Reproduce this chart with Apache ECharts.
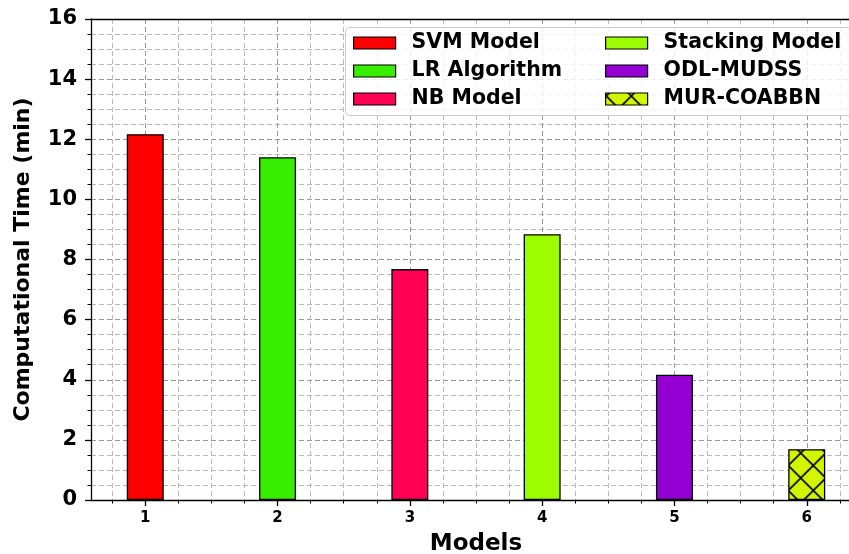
<!DOCTYPE html>
<html>
<head>
<meta charset="utf-8">
<script src="https://cdn.jsdelivr.net/npm/echarts@6/dist/echarts.min.js"></script>
<style>
  html, body { margin: 0; padding: 0; background: #fff; }
  #chart { width: 849px; height: 554px; }
</style>
</head>
<body>
<div id="chart"></div>
<script>
// Computational time per model (minutes)
const categories = [1, 2, 3, 4, 5, 6];
const modelNames = ['SVM Model', 'LR Algorithm', 'NB Model', 'Stacking Model', 'ODL-MUDSS', 'MUR-COABBN'];
const compTimes = [12.17, 11.40, 7.68, 8.84, 4.17, 1.69];
const barColors = ['#ff0000', '#38ee00', '#ff0055', '#9cfc00', '#9400d3', '#d4f500'];
const yTickLabels = [0, 2, 4, 6, 8, 10, 12, 14, 16];

const FONT = 'DejaVu Sans';
const xMin = 0.59, xMax = 6.41;

// quarter-step minor ticks along the model axis
const xMinorTicks = [];
for (let v = 0.75; v < xMax; v += 0.25) {
  if (v > xMin && Math.abs(v - Math.round(v)) > 1e-6) xMinorTicks.push(+v.toFixed(2));
}

// cross-hatch fill for the last bar
function hatchPattern(bg) {
  const s = 25;
  const c = document.createElement('canvas');
  c.width = s; c.height = s;
  const g = c.getContext('2d');
  g.fillStyle = bg;
  g.fillRect(0, 0, s, s);
  g.strokeStyle = '#000';
  g.lineWidth = 1.6;
  g.beginPath();
  g.moveTo(0, 0); g.lineTo(s, s);
  g.moveTo(s, 0); g.lineTo(0, s);
  g.stroke();
  return { image: c, repeat: 'repeat', x: 0.7, y: 3 };
}

const series = modelNames.map((name, i) => ({
  type: 'bar',
  name: name,
  xAxisIndex: 0,
  yAxisIndex: 0,
  barWidth: 37,
  barGap: '-100%',
  data: [[categories[i], compTimes[i]]],
  itemStyle: {
    color: i === 5 ? hatchPattern(barColors[i]) : barColors[i],
    borderColor: '#000',
    borderWidth: 1.3
  }
}));

const gridMajor = { type: [5, 3], color: '#999999', width: 1 };
const gridMinor = { type: [5, 3], color: '#bababa', width: 1 };

const legendCommon = {
  orient: 'vertical',
  top: 32.5,
  padding: 0,
  itemWidth: 42,
  itemHeight: 12,
  itemGap: 7,
  selectedMode: false,
  z: 5,
  icon: 'rect',
  itemStyle: { borderColor: '#000', borderWidth: 1.2 },
  textStyle: {
    fontFamily: FONT, fontSize: 20.5, fontWeight: 'bold', color: '#000',
    lineHeight: 20, padding: [0, 0, 0, 11]
  }
};

const option = {
  animation: false,
  backgroundColor: '#fff',
  textStyle: { fontFamily: FONT },
  grid: {
    left: 91, top: 19, bottom: 54, right: -12,
    containLabel: false, outerBoundsMode: 'none'
  },
  graphic: [{
    type: 'rect',
    z: 3,
    shape: { x: 345.5, y: 27.5, width: 540, height: 88, r: 4 },
    style: { fill: 'rgba(255,255,255,0.82)', stroke: '#cccccc', lineWidth: 1 }
  }],
  legend: [
    Object.assign({}, legendCommon, { left: 353, data: modelNames.slice(0, 3) }),
    Object.assign({}, legendCommon, { left: 605, data: modelNames.slice(3) })
  ],
  xAxis: [
    {
      type: 'value', min: xMin, max: xMax, position: 'bottom',
      name: 'Models', nameLocation: 'middle', nameGap: 33,
      nameTextStyle: { fontFamily: FONT, fontSize: 23, fontWeight: 'bold', color: '#000' },
      axisLine: { show: true, onZero: false, lineStyle: { color: '#000', width: 1.3 } },
      axisTick: { show: true, customValues: categories, length: 6, lineStyle: { color: '#000', width: 1.3 } },
      axisLabel: { customValues: categories, fontFamily: FONT, fontSize: 15, fontWeight: 'bold', color: '#000', margin: 11 },
      splitLine: { show: true, lineStyle: gridMajor }
    },
    {
      type: 'value', min: xMin, max: xMax, position: 'bottom',
      axisLine: { show: false },
      axisTick: { show: true, customValues: xMinorTicks, length: 3.5, lineStyle: { color: '#000', width: 1 } },
      axisLabel: { show: false },
      splitLine: { show: true, lineStyle: gridMinor }
    },
    {
      type: 'value', min: xMin, max: xMax, position: 'top',
      axisLine: { show: true, lineStyle: { color: '#000', width: 1.3 } },
      axisTick: { show: false },
      axisLabel: { show: false },
      splitLine: { show: false }
    }
  ],
  yAxis: [{
    type: 'value', min: yTickLabels[0], max: yTickLabels[yTickLabels.length - 1], interval: 2,
    name: 'Computational Time (min)', nameLocation: 'middle', nameGap: 57,
    nameTextStyle: { fontFamily: FONT, fontSize: 22, fontWeight: 'bold', color: '#000' },
    axisLine: { show: true, lineStyle: { color: '#000', width: 1.3 } },
    axisTick: { show: true, length: 6, lineStyle: { color: '#000', width: 1.3 } },
    minorTick: { show: true, splitNumber: 4, length: 3.5, lineStyle: { color: '#000', width: 1 } },
    axisLabel: { fontFamily: FONT, fontSize: 21, fontWeight: 'bold', color: '#000', margin: 14, padding: [4, 0, 0, 0] },
    splitLine: { show: true, lineStyle: gridMajor },
    minorSplitLine: { show: true, lineStyle: gridMinor }
  }],
  series: series
};

const chart = echarts.init(document.getElementById('chart'), null, { renderer: 'canvas' });
chart.setOption(option);
</script>
</body>
</html>
